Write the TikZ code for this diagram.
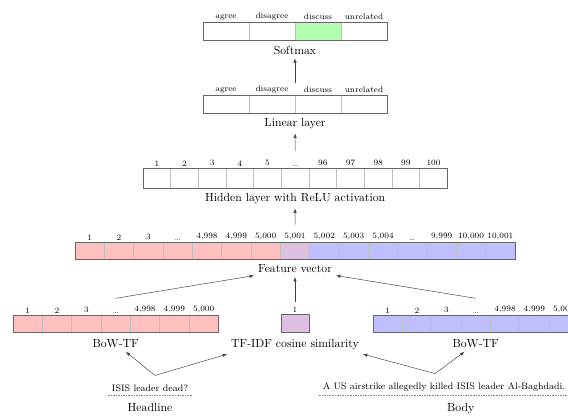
\documentclass[tikz,border=0pt]{standalone}
\usetikzlibrary{arrows.meta, positioning, calc}
\colorlet{headcol}{red!25}
\colorlet{bodycol}{blue!25}
\colorlet{simcol}{violet!25}
\colorlet{predcol}{green!30}
\tikzset{> = { Latex[length = 1.3mm, width = 1mm] }}

\begin{document}
\begin{tikzpicture}[
    cell/.style = { draw = gray!50, inner sep = 0, outer sep = 0, minimum width = 0.88cm, minimum height = 0.51cm },
    wide/.style = { minimum width = 1.38cm, minimum height = 0.54cm },
    tall/.style = { minimum width = 0.83cm, minimum height = 0.6cm },
    tag/.style = { font = \scriptsize, inner sep = 1.5pt },
    frame/.style = { draw = black!60 },
    flow/.style = { ->, draw = black!75 }
  ]
  \clip (0, 0) rectangle (17.04, 12.54);

  % softmax
  \foreach \l/\c [count = \i] in {agree/white, disagree/white, discuss/predcol, unrelated/white}
    \node [cell, wide, fill = \c, label = {[tag]above:\l}] (sm\i) at ({6.78 + (\i - 1)*1.38}, 11.61) {};
  \draw [frame] (sm1.north west) rectangle (sm4.south east);
  \node [below = 0.05 of sm2.south east] (smcap) {Softmax};

  % linear layer
  \foreach \l [count = \i] in {agree, disagree, discuss, unrelated}
    \node [cell, wide, label = {[tag]above:\l}] (lin\i) at ({6.78 + (\i - 1)*1.38}, 9.42) {};
  \draw [frame] (lin1.north west) rectangle (lin4.south east);
  \node [below = 0.05 of lin2.south east] (lincap) {Linear layer};

  % hidden layer
  \foreach \l [count = \i] in {1, 2, 3, 4, 5, \dots, 96, 97, 98, 99, 100}
    \node [cell, tall, label = {[tag]above:\l}] (hid\i) at ({4.705 + (\i - 1)*0.83}, 7.2) {};
  \draw [frame] (hid1.north west) rectangle (hid11.south east);
  \node [below = 0.05 of hid6.south] (hidcap) {Hidden layer with ReLU activation};

  % feature vector
  \foreach \l [count = \i] in {1, 2, 3, \dots, {4,998}, {4,999}, {5,000}}
    \node [cell, fill = headcol, label = {[tag]above:{\l}}] (fv\i) at ({2.69 + (\i - 1)*0.88}, 5.025) {};
  \node [cell, fill = simcol, label = {[tag]above:{5,001}}] (fv8) at (8.85, 5.025) {};
  \foreach \l [count = \i from 9] in {{5,002}, {5,003}, {5,004}, \dots, {9,999}, {10,000}, {10,001}}
    \node [cell, fill = bodycol, label = {[tag]above:{\l}}] (fv\i) at ({2.69 + (\i - 1)*0.88}, 5.025) {};
  \draw [frame] (fv1.north west) rectangle (fv15.south east);
  \node [below = 0.05 of fv8.south] (fvcap) {Feature vector};

  % inputs
  \foreach \l [count = \i] in {1, 2, 3, \dots, {4,998}, {4,999}, {5,000}} {
    \node [cell, fill = headcol, label = {[tag]above:{\l}}] (bl\i) at ({0.83 + (\i - 1)*0.88}, 2.835) {};
    \node [cell, fill = bodycol, label = {[tag]above:{\l}}] (br\i) at ({11.63 + (\i - 1)*0.88}, 2.835) {};
  }
  \draw [frame] (bl1.north west) rectangle (bl7.south east);
  \draw [frame] (br1.north west) rectangle (br7.south east);
  \node [cell, minimum width = 0.84cm, minimum height = 0.54cm, fill = simcol, label = {[tag]above:1}] (cos) at (8.85, 2.85) {};
  \draw [frame] (cos.north west) rectangle (cos.south east);

  \node [below = 0.1 of bl4.south] (blcap) {BoW-TF};
  \node [below = 0.1 of cos.south] (coscap) {TF-IDF cosine similarity};
  \node [below = 0.1 of br4.south] (brcap) {BoW-TF};

  % texts
  \node [font = \footnotesize] (hl) at (4.5, 0.9) {ISIS leader dead?};
  \draw [densely dotted, gray] (hl.south west) -- (hl.south east);
  \node [below = 0.1 of hl] (hlcap) {Headline};

  \node [font = \footnotesize] (bd) at (13.32, 0.93) {A US airstrike allegedly killed ISIS leader Al-Baghdadi.};
  \draw [densely dotted, gray] (bd.south west) -- (bd.south east);
  \node [below = 0.1 of bd, xshift = 0.5cm] (bdcap) {Body};

  % connections
  \coordinate (lintop) at ($(lin2.north east) + (0, 0.36)$);
  \coordinate (hidtop) at ($(hid6.north) + (0, 0.5)$);
  \coordinate (fvtop)  at ($(fv8.north) + (0, 0.5)$);
  \coordinate (bltop)  at ($(bl4.north) + (0, 0.5)$);
  \coordinate (brtop)  at ($(br4.north) + (0, 0.5)$);
  \coordinate (costop) at ($(cos.north) + (0, 0.36)$);
  \coordinate (hltop)  at ($(hl.north) + (0.15, 0.15)$);
  \coordinate (bdtop)  at ($(bd.north) + (-0.27, 0.15)$);

  \draw [flow] (lintop) -- (smcap);
  \draw [flow] (hidtop) -- (lincap);
  \draw [flow] (fvtop) -- (hidcap);

  \draw [flow] (bltop) -- (fvcap);
  \draw [flow] (costop) -- (fvcap);
  \draw [flow] (brtop) -- (fvcap);

  \draw [flow] (hltop) -- (blcap);
  \draw [flow] (hltop) -- (coscap.south west);
  \draw [flow] (bdtop) -- (coscap.south east);
  \draw [flow] (bdtop) -- (brcap);
\end{tikzpicture}
\end{document}
